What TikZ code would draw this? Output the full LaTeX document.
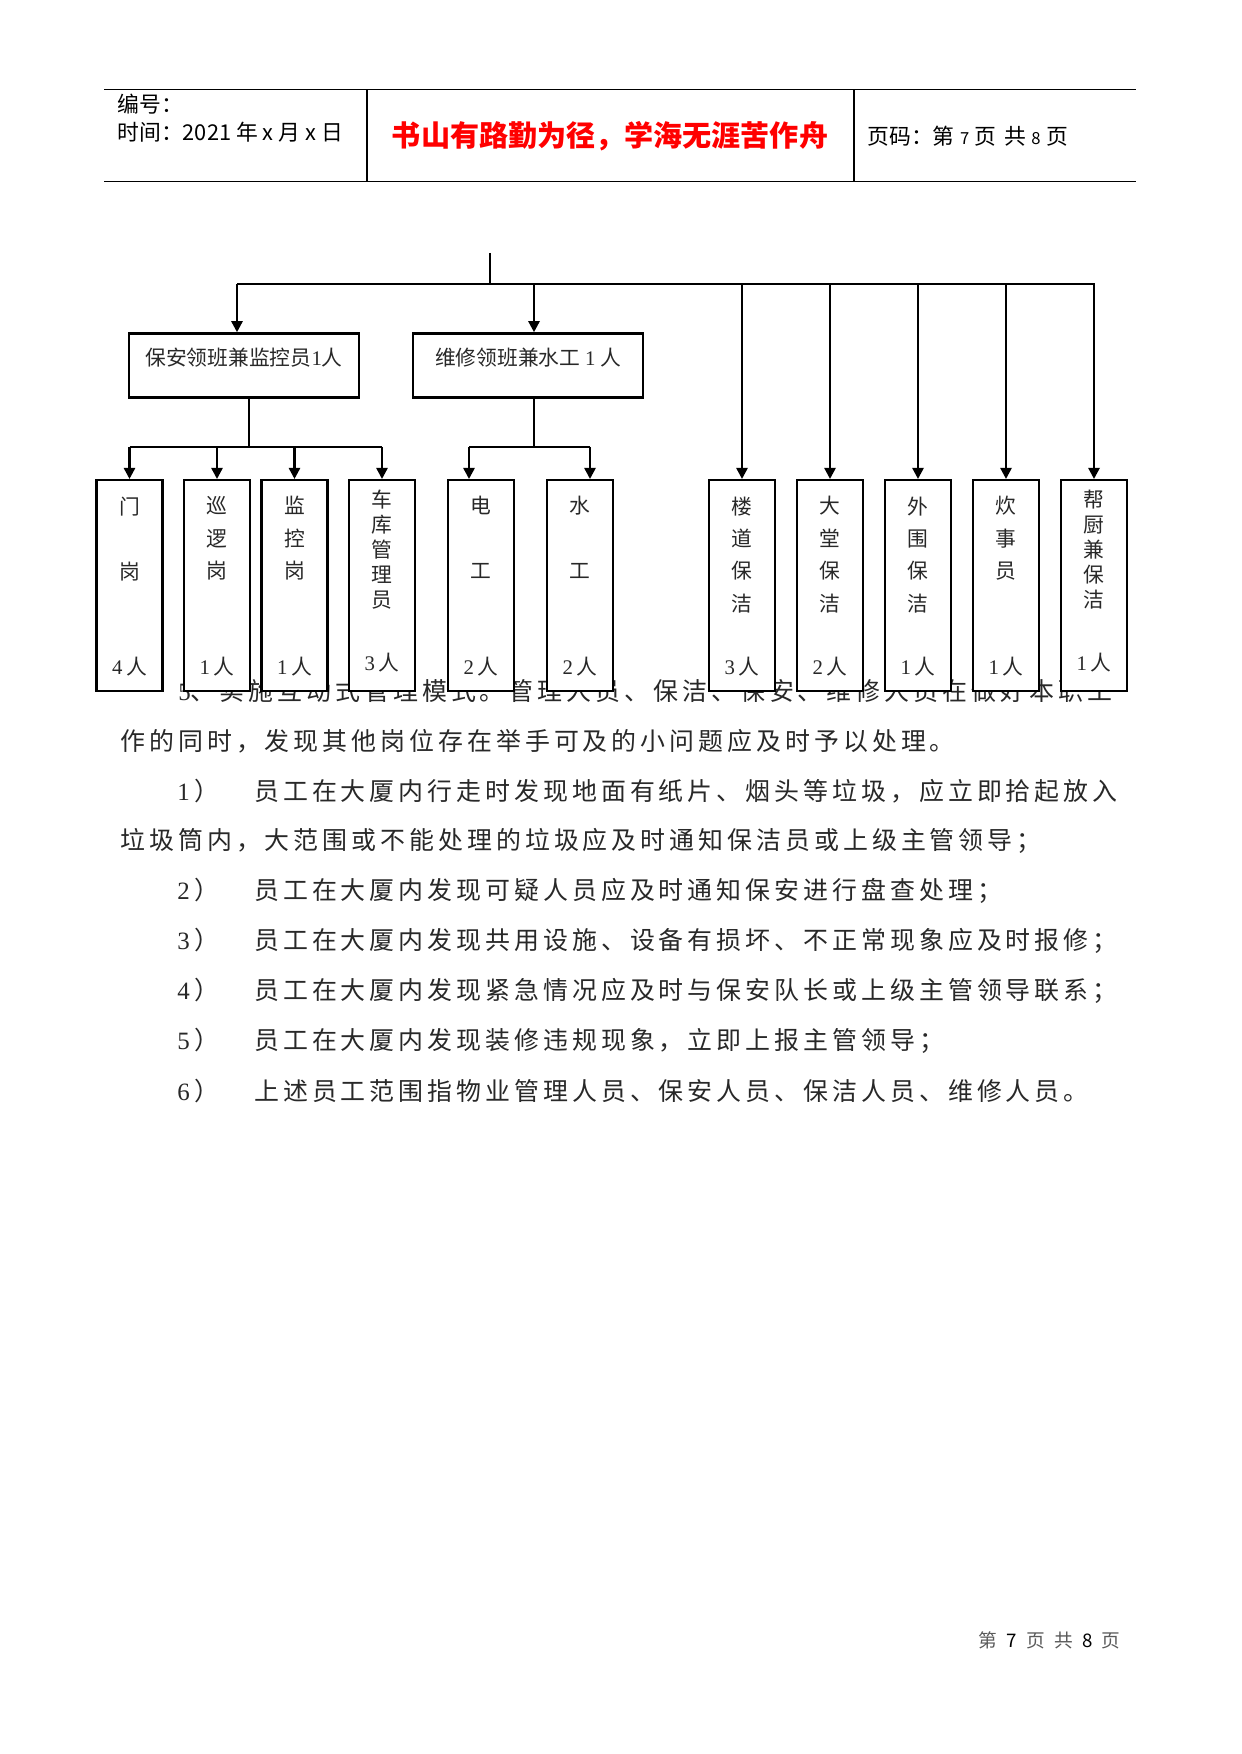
\documentclass[tikz,border=0pt]{standalone}
\usepackage{fontspec}
\usepackage{xcolor}
\usepackage{tikz}
\usetikzlibrary{arrows.meta}
\setmainfont{Noto Sans CJK SC}
\newfontfamily\numfont{Liberation Serif}
\newfontfamily\bodyfont[LetterSpace=16]{Noto Sans CJK SC}
\definecolor{mottored}{RGB}{255,0,0}
\definecolor{inkgray}{RGB}{40,40,40}
\definecolor{footgray}{RGB}{90,90,90}

\begin{document}
\begin{tikzpicture}[x=0.16922mm,y=-0.16922mm,
  hline/.style={line width=0.7pt},
  wire/.style={line width=1.2pt},
  arr/.style={line width=1.2pt,-{Triangle[width=1.9mm,length=1.9mm]}},
  headtext/.style={anchor=west,inner sep=0pt,font=\fontsize{10.5}{12}\selectfont},
  midbox/.style={draw,line width=1.2pt,minimum width=39mm,minimum height=10.8mm,inner sep=0pt,
    text depth=2.9mm,text=inkgray,font=\fontsize{10}{12}\selectfont},
  postbox/.style={draw,fill=white,line width=1.2pt,minimum width=11.2mm,minimum height=35.7mm,
    inner sep=0pt,anchor=north},
  postname/.style={anchor=north,align=center,inner sep=0pt,text=inkgray,yshift=-2.9mm,
    font=\fontsize{10}{15.6}\selectfont},
  twoname/.style={postname,font=\fontsize{10}{31.3}\selectfont},
  fivename/.style={postname,yshift=1.1mm,font=\fontsize{10}{12}\selectfont},
  postnum/.style={inner sep=0pt,text=inkgray,yshift=4.3mm,font=\fontsize{10}{12}\selectfont},
  bodyline/.style={anchor=west,inner sep=0pt,text=inkgray,font=\bodyfont\fontsize{12}{14}\selectfont}]
  \fill[white] (0,0) rectangle (1241,1754);
  \useasboundingbox (0,0) rectangle (1241,1754);

  % page header
  \draw[hline] (104,89.5) -- (1136,89.5);
  \draw[hline] (104,181.5) -- (1136,181.5);
  \draw[line width=1pt] (367,89.5) -- (367,181.5);
  \draw[line width=0.5pt] (854,89.5) -- (854,181.5);
  \node[headtext] (serial) at (117,104) {编号：};
  \node[headtext] (date) at (117,132) {时间：2021 年 x 月 x 日};
  \node[font=\fontsize{14}{16}\selectfont\bfseries,text=mottored] (motto) at (610,136) {书山有路勤为径，学海无涯苦作舟};
  \node[headtext] (pageno) at (867,136) {页码：第\hspace{0.25em}{\fontsize{8}{10}\selectfont 7}\hspace{0.25em}页\hspace{0.35em}共\hspace{0.25em}{\fontsize{8}{10}\selectfont 8}\hspace{0.25em}页};

  % text behind the chart
  \node[bodyline] (p1) at (178,691) {{\numfont 5}、实施互动式管理模式。管理人员、保洁、保安、维修人员在做好本职工};
  \node[bodyline] (p2) at (120,741) {作的同时，发现其他岗位存在举手可及的小问题应及时予以处理。};
  \node[bodyline] (p3) at (177,791) {\makebox[13mm][l]{{\numfont 1}\,）}员工在大厦内行走时发现地面有纸片、烟头等垃圾，应立即拾起放入};
  \node[bodyline] (p4) at (120,841) {垃圾筒内，大范围或不能处理的垃圾应及时通知保洁员或上级主管领导；};
  \node[bodyline] (p5) at (177,891) {\makebox[13mm][l]{{\numfont 2}\,）}员工在大厦内发现可疑人员应及时通知保安进行盘查处理；};
  \node[bodyline] (p6) at (177,941) {\makebox[13mm][l]{{\numfont 3}\,）}员工在大厦内发现共用设施、设备有损坏、不正常现象应及时报修；};
  \node[bodyline] (p7) at (177,991) {\makebox[13mm][l]{{\numfont 4}\,）}员工在大厦内发现紧急情况应及时与保安队长或上级主管领导联系；};
  \node[bodyline] (p8) at (177,1041) {\makebox[13mm][l]{{\numfont 5}\,）}员工在大厦内发现装修违规现象，立即上报主管领导；};
  \node[bodyline] (p9) at (177,1091) {\makebox[13mm][l]{{\numfont 6}\,）}上述员工范围指物业管理人员、保安人员、保洁人员、维修人员。};

  % chart
  \coordinate (top) at (490,253);
  \coordinate (busL) at (237,284);
  \coordinate (busR) at (1094.6,284);
  \coordinate (t2) at (534,284);
  \coordinate (s1) at (249,447);
  \coordinate (s2) at (534,447);
  \coordinate (d1) at (469,447);
  \coordinate (d2) at (590,447);

  \node[midbox] (secbox) at (244,365.4) {保安领班兼监控员{\numfont 1}人};
  \node[midbox] (repbox) at (528,365.4) {维修领班兼水工 {\numfont 1} 人};

  \node[postbox] (men) at (129.5,479) {};
  \node[postbox] (xun) at (217,479) {};
  \node[postbox] (jian) at (294.5,479) {};
  \node[postbox] (che) at (382,479) {};
  \node[postbox] (dian) at (481,479) {};
  \node[postbox] (shui) at (580,479) {};
  \node[postbox] (lou) at (742,479) {};
  \node[postbox] (tang) at (830,479) {};
  \node[postbox] (wai) at (918,479) {};
  \node[postbox] (chui) at (1006,479) {};
  \node[postbox] (bang) at (1094,479) {};

  \node[twoname] (men-t) at (men.north) {门\\岗};
  \node[postname] (xun-t) at (xun.north) {巡\\逻\\岗};
  \node[postname] (jian-t) at (jian.north) {监\\控\\岗};
  \node[fivename] (che-t) at (che.north) {车\\库\\管\\理\\员};
  \node[twoname] (dian-t) at (dian.north) {电\\工};
  \node[twoname] (shui-t) at (shui.north) {水\\工};
  \node[postname] (lou-t) at (lou.north) {楼\\道\\保\\洁};
  \node[postname] (tang-t) at (tang.north) {大\\堂\\保\\洁};
  \node[postname] (wai-t) at (wai.north) {外\\围\\保\\洁};
  \node[postname] (chui-t) at (chui.north) {炊\\事\\员};
  \node[fivename] (bang-t) at (bang.north) {帮\\厨\\兼\\保\\洁};

  \node[postnum] (men-n) at (men.south) {{\numfont 4}\,人};
  \node[postnum] (xun-n) at (xun.south) {{\numfont 1}\,人};
  \node[postnum] (jian-n) at (jian.south) {{\numfont 1}\,人};
  \node[postnum,yshift=0.8mm] (che-n) at (che.south) {{\numfont 3}\,人};
  \node[postnum] (dian-n) at (dian.south) {{\numfont 2}\,人};
  \node[postnum] (shui-n) at (shui.south) {{\numfont 2}\,人};
  \node[postnum] (lou-n) at (lou.south) {{\numfont 3}\,人};
  \node[postnum] (tang-n) at (tang.south) {{\numfont 2}\,人};
  \node[postnum] (wai-n) at (wai.south) {{\numfont 1}\,人};
  \node[postnum] (chui-n) at (chui.south) {{\numfont 1}\,人};
  \node[postnum,yshift=0.8mm] (bang-n) at (bang.south) {{\numfont 1}\,人};

  % connectors
  \draw[wire] (top) -- (top |- busL);
  \draw[wire] (busL) -- (busR);
  \draw[arr] (busL) -- (busL |- secbox.north);
  \draw[arr] (t2) -- (t2 |- repbox.north);
  \draw[arr] (lou.north |- busL) -- (lou.north);
  \draw[arr] (tang.north |- busL) -- (tang.north);
  \draw[arr] (wai.north |- busL) -- (wai.north);
  \draw[arr] (chui.north |- busL) -- (chui.north);
  \draw[arr] (bang.north |- busL) -- (bang.north);

  \draw[line width=0.6pt] (s1 |- secbox.south) -- (s1);
  \draw[wire] (men.north |- s1) -- (che.north |- s1);
  \draw[arr] (men.north |- s1) -- (men.north);
  \draw[arr] (xun.north |- s1) -- (xun.north);
  \draw[arr] (jian.north |- s1) -- (jian.north);
  \draw[arr] (che.north |- s1) -- (che.north);

  \draw[wire] (s2 |- repbox.south) -- (s2);
  \draw[wire] (d1) -- (d2);
  \draw[arr] (d1) -- (d1 |- dian.north);
  \draw[arr] (d2) -- (d2 |- shui.north);

  % page footer
  \node[anchor=east,inner sep=0pt,text=footgray,font=\fontsize{9}{11}\selectfont] (foot) at (1121,1640)
    {第\enspace{\color{black}7}\enspace 页\enspace 共\enspace{\color{black}8}\enspace 页};
\end{tikzpicture}
\end{document}
